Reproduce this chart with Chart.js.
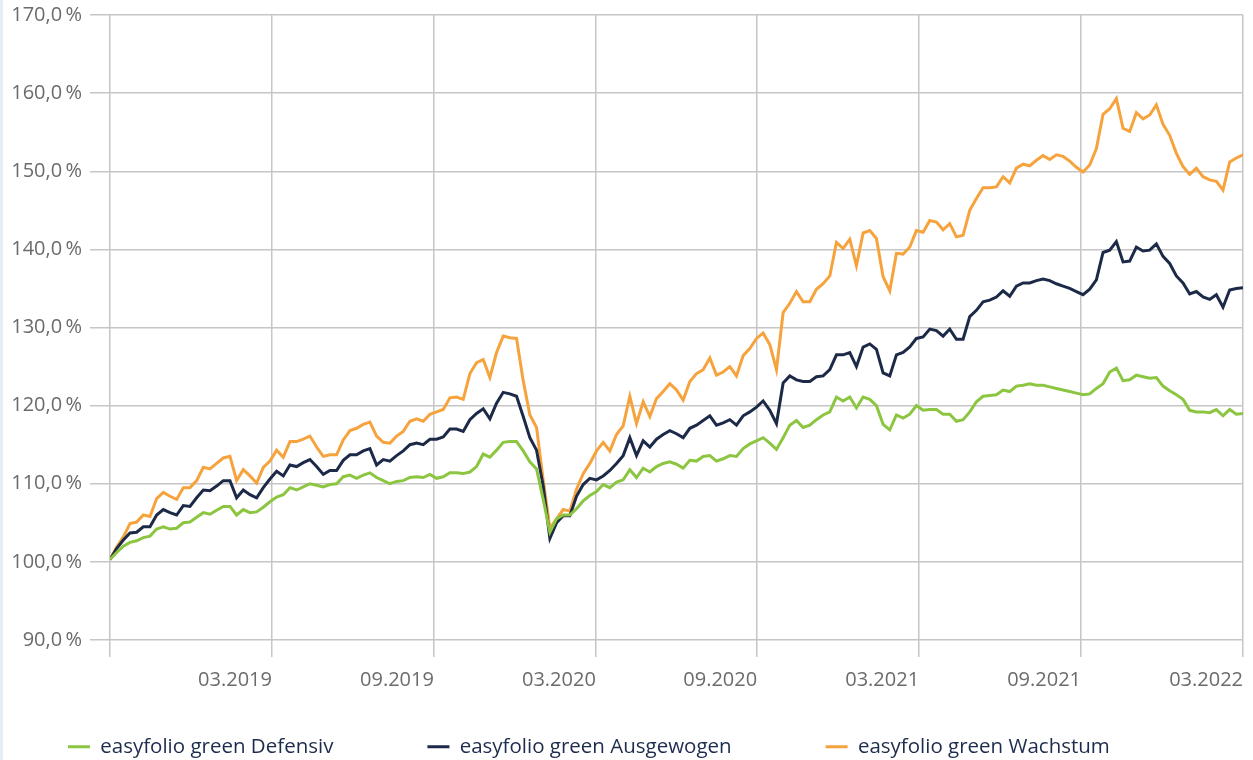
<!DOCTYPE html>
<html>
<head>
<meta charset="utf-8">
<script src="https://cdn.jsdelivr.net/npm/chart.js@4.4.1/dist/chart.umd.min.js"></script>
<style>
  html, body { margin: 0; padding: 0; background: #fff; }
  #wrap { position: relative; width: 1253px; height: 760px; }
  #edge { position: absolute; left: 0; top: 0; width: 3px; height: 760px; background: #e4ecf5; }
</style>
</head>
<body>
<div id="wrap">
  <canvas id="chart" width="1253" height="760"></canvas>
  <div id="edge"></div>
</div>
<script>
// wöchentliche Werte, Index 0 = Anfang 09.2018
const defensiv = [
  100.3, 101.2, 102.0, 102.5, 102.7, 103.1, 103.3, 104.2, 104.5, 104.2,
  104.3, 105.0, 105.1, 105.7, 106.3, 106.1, 106.6, 107.1, 107.1, 106.0,
  106.7, 106.3, 106.4, 107.0, 107.7, 108.3, 108.6, 109.5, 109.2, 109.6,
  110.0, 109.8, 109.6, 109.9, 110.0, 110.9, 111.1, 110.7, 111.1, 111.4,
  110.8, 110.4, 110.0, 110.3, 110.4, 110.8, 110.9, 110.8, 111.2, 110.7,
  110.9, 111.4, 111.4, 111.3, 111.5, 112.2, 113.8, 113.4, 114.3, 115.3,
  115.4, 115.4, 114.2, 112.8, 111.9, 108.0, 103.8, 105.5, 106.0, 106.0,
  106.8, 107.8, 108.5, 109.0, 109.9, 109.5, 110.2, 110.5, 111.8, 110.8,
  112.0, 111.5, 112.2, 112.6, 112.8, 112.5, 112.0, 113.0, 112.9, 113.5,
  113.6, 112.9, 113.2, 113.6, 113.5, 114.5, 115.1, 115.5, 115.9, 115.2,
  114.4, 115.9, 117.5, 118.1, 117.2, 117.5, 118.2, 118.8, 119.2, 121.1,
  120.6, 121.1, 119.7, 121.1, 120.8, 120.0, 117.6, 116.9, 118.8, 118.4,
  118.9, 120.0, 119.4, 119.5, 119.5, 118.9, 118.9, 118.0, 118.2, 119.2,
  120.5, 121.2, 121.3, 121.4, 122.0, 121.8, 122.5, 122.6, 122.8, 122.6,
  122.6, 122.4, 122.2, 122.0, 121.8, 121.6, 121.4, 121.5, 122.2, 122.8,
  124.3, 124.8, 123.2, 123.3, 123.9, 123.7, 123.5, 123.6, 122.5, 121.9,
  121.4, 120.8, 119.4, 119.2, 119.2, 119.1, 119.5, 118.7, 119.5, 118.9,
  119.0
];

const ausgewogen = [
  100.3, 101.7, 102.8, 103.7, 103.8, 104.5, 104.5, 106.0, 106.7, 106.3,
  106.0, 107.2, 107.1, 108.2, 109.2, 109.1, 109.7, 110.4, 110.4, 108.2,
  109.2, 108.6, 108.2, 109.5, 110.6, 111.6, 111.0, 112.4, 112.2, 112.7,
  113.1, 112.2, 111.2, 111.7, 111.7, 113.0, 113.7, 113.7, 114.2, 114.5,
  112.4, 113.1, 112.9, 113.6, 114.2, 115.0, 115.2, 115.0, 115.7, 115.7,
  116.0, 117.0, 117.0, 116.7, 118.2, 119.0, 119.6, 118.3, 120.3, 121.7,
  121.5, 121.2, 118.6, 115.9, 114.3, 109.7, 103.0, 105.0, 105.9, 105.9,
  108.4, 109.9, 110.7, 110.5, 111.0, 111.7, 112.6, 113.6, 115.9, 113.6,
  115.5, 114.7, 115.7, 116.3, 116.8, 116.4, 115.9, 117.1, 117.5, 118.1,
  118.7, 117.5, 117.8, 118.2, 117.5, 118.7, 119.2, 119.8, 120.6, 119.4,
  117.7, 122.9, 123.8, 123.3, 123.1, 123.1, 123.7, 123.8, 124.6, 126.5,
  126.5, 126.8, 125.0, 127.5, 127.9, 127.2, 124.2, 123.8, 126.5, 126.8,
  127.5, 128.6, 128.8, 129.8, 129.6, 128.9, 129.8, 128.5, 128.5, 131.4,
  132.2, 133.3, 133.5, 133.9, 134.7, 134.0, 135.3, 135.7, 135.7, 136.0,
  136.2, 136.0, 135.6, 135.3, 135.0, 134.6, 134.2, 134.9, 136.1, 139.6,
  139.9, 141.0, 138.4, 138.5, 140.3, 139.8, 139.9, 140.7, 139.1, 138.2,
  136.6, 135.7, 134.3, 134.6, 133.9, 133.6, 134.2, 132.6, 134.8, 135.0,
  135.1
];

const wachstum = [
  100.3, 101.9, 103.2, 104.9, 105.1, 106.0, 105.8, 108.1, 108.9, 108.4,
  108.0, 109.5, 109.5, 110.4, 112.1, 111.9, 112.6, 113.3, 113.5, 110.4,
  111.8, 111.0, 110.1, 112.1, 112.9, 114.3, 113.4, 115.4, 115.4, 115.7,
  116.1, 114.7, 113.5, 113.7, 113.7, 115.6, 116.8, 117.1, 117.6, 117.9,
  116.1, 115.3, 115.2, 116.1, 116.7, 118.0, 118.3, 118.0, 118.9, 119.2,
  119.5, 121.0, 121.1, 120.8, 124.1, 125.5, 125.9, 123.6, 126.8, 128.9,
  128.7, 128.6, 123.2, 118.8, 117.2, 110.5, 104.3, 105.5, 106.7, 106.5,
  109.3, 111.3, 112.6, 114.2, 115.3, 114.2, 116.3, 117.4, 121.2, 117.7,
  120.5, 118.6, 120.9, 121.8, 122.8, 122.0, 120.7, 123.1, 124.1, 124.6,
  126.1, 123.9, 124.3, 125.0, 123.8, 126.4, 127.3, 128.6, 129.3, 127.8,
  124.6, 131.9, 133.1, 134.6, 133.3, 133.3, 134.9, 135.6, 136.6, 140.9,
  140.1, 141.3, 137.9, 142.1, 142.4, 141.4, 136.5, 134.7, 139.5, 139.4,
  140.3, 142.4, 142.2, 143.7, 143.5, 142.5, 143.3, 141.6, 141.8, 145.0,
  146.5, 147.9, 147.9, 148.0, 149.3, 148.5, 150.4, 150.9, 150.7, 151.4,
  152.0, 151.5, 152.1, 151.9, 151.3, 150.5, 149.9, 150.8, 152.9, 157.3,
  158.0, 159.3, 155.5, 155.1, 157.5, 156.7, 157.2, 158.5, 156.0, 154.6,
  152.3, 150.6, 149.6, 150.4, 149.3, 148.9, 148.7, 147.6, 151.2, 151.7,
  152.1
];

// Position der Halbjahres-Gitterlinien (in Wochen) und ihre Beschriftung
const tickWeeks = [0, 24.3, 48.6, 72.9, 97.1, 121.4, 145.7, 170];
const tickLabels = ['', '03.2019', '09.2019', '03.2020', '09.2020', '03.2021', '09.2021', '03.2022'];

const weeks = defensiv.map((_, i) => i);

const font = 'Open Sans';
const gridColor = '#c6c6c6';

new Chart(document.getElementById('chart').getContext('2d'), {
  type: 'line',
  data: {
    labels: weeks,
    datasets: [
      { label: 'easyfolio green Defensiv', data: defensiv, borderColor: '#8cc540', backgroundColor: '#8cc540' },
      { label: 'easyfolio green Ausgewogen', data: ausgewogen, borderColor: '#1c2a48', backgroundColor: '#1c2a48' },
      { label: 'easyfolio green Wachstum', data: wachstum, borderColor: '#f7a33d', backgroundColor: '#f7a33d' },
    ],
  },
  options: {
    responsive: false,
    animation: false,
    // linker Rand negativ, damit die Legende weiter links beginnt
    layout: { padding: { top: 15, right: 10, bottom: -7, left: -26 } },
    elements: {
      line: { borderWidth: 3, tension: 0 },
      point: { radius: 0 },
    },
    plugins: {
      tooltip: { enabled: false },
      legend: {
        position: 'bottom',
        align: 'start',
        labels: {
          boxWidth: 22,
          boxHeight: 3,
          padding: 94,
          color: '#1d2b4c',
          font: { family: font, size: 20.5 },
          generateLabels: (chart) =>
            Chart.defaults.plugins.legend.labels.generateLabels(chart).map(l => ({ ...l, lineWidth: 0 })),
        },
      },
    },
    scales: {
      x: {
        type: 'linear',
        min: 0,
        max: 170,
        afterBuildTicks: (axis) => { axis.ticks = tickWeeks.map(v => ({ value: v })); },
        afterFit: (axis) => { axis.height = 2.5; axis.paddingLeft = 0; axis.paddingRight = 0; },
        border: { display: false },
        grid: { color: gridColor, lineWidth: 1.5, tickLength: 17 },
        ticks: {
          // mirror: Beschriftung nicht auf die (flache) Achsenbox beschneiden
          mirror: true,
          align: 'end',
          autoSkip: false,
          maxRotation: 0,
          padding: -52,
          color: '#6b6b6b',
          font: { family: font, size: 20 },
          callback: (value, index) => tickLabels[index],
        },
      },
      y: {
        min: 90,
        max: 170,
        afterFit: (axis) => { axis.width = 136; axis.paddingTop = 0; axis.paddingBottom = 0; },
        border: { display: false },
        grid: { color: gridColor, lineWidth: 1.5, tickLength: 20 },
        ticks: {
          stepSize: 10,
          padding: 8,
          color: '#6b6b6b',
          font: { family: font, size: 20 },
          callback: (v) => v.toFixed(1).replace('.', ',') + '\u2009%',
        },
      },
    },
  },
});
</script>
</body>
</html>
